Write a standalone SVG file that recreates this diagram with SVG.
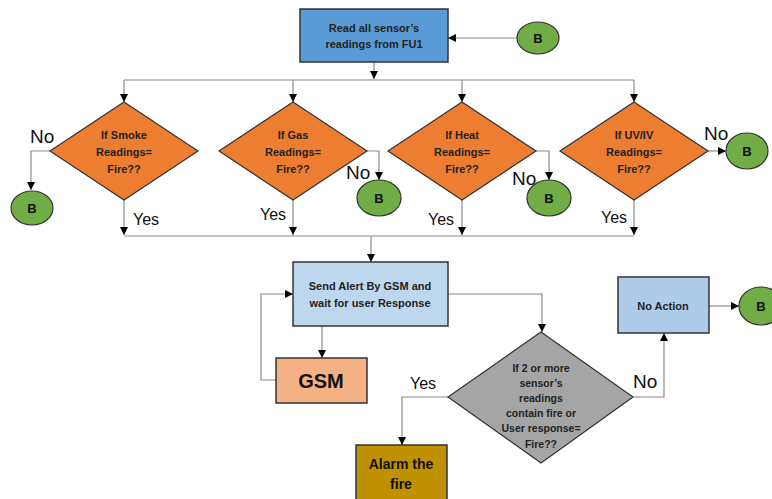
<svg xmlns="http://www.w3.org/2000/svg" width="772" height="499" viewBox="0 0 772 499">
<defs>
<marker id="arr" markerUnits="userSpaceOnUse" markerWidth="8" markerHeight="8" refX="8" refY="4" orient="auto">
<path d="M0,0 L8,4 L0,8 z" fill="#000"/>
</marker>
<style>
.con{fill:none;stroke:#8a8a8a;stroke-width:1.2}
.arr{marker-end:url(#arr)}
.box{stroke:#333;stroke-width:1.5}
.dia{fill:#ED7D31;stroke:#333;stroke-width:1.2}
.b{fill:#70AD47;stroke:#333;stroke-width:1.2}
.t{font-family:"Liberation Sans",Arial,sans-serif;font-weight:bold;font-size:11px;fill:#222;text-anchor:middle}
.sm{font-size:10.5px}
.big{font-size:20px;fill:#111}
.mid{font-size:14px;fill:#111}
.bt{font-family:"Liberation Sans",Arial,sans-serif;font-weight:bold;font-size:13px;fill:#111;text-anchor:middle}
.lbl{font-family:"Liberation Sans",Arial,sans-serif;font-size:16px;fill:#111}
.no{font-size:19px}
</style>
</defs>
<rect width="772" height="499" fill="#fff"/>

<g id="connectors">
<path class="con arr" d="M517,38 H448"/>
<path class="con arr" d="M374,62 V79"/>
<path class="con" d="M124,80 H634"/>
<path class="con arr" d="M124,80 V102"/>
<path class="con arr" d="M293,80 V102"/>
<path class="con arr" d="M462,80 V102"/>
<path class="con arr" d="M634,80 V102"/>
<path class="con arr" d="M50,151 H31 V190"/>
<path class="con arr" d="M367,151 H379 V180"/>
<path class="con arr" d="M536,151 H549 V180"/>
<path class="con arr" d="M708,151 H726"/>
<path class="con arr" d="M124,200 V235"/>
<path class="con arr" d="M293,200 V235"/>
<path class="con arr" d="M462,200 V235"/>
<path class="con arr" d="M634,200 V235"/>
<path class="con" d="M124,236 H634"/>
<path class="con arr" d="M371,236 V262"/>
<path class="con arr" d="M322,326 V358"/>
<path class="con arr" d="M276,380 H261 V294 H293"/>
<path class="con arr" d="M448,294 H542 V332"/>
<path class="con arr" d="M448,397 H402 V445"/>
<path class="con arr" d="M633,397 H664 V333"/>
<path class="con arr" d="M709,306 H739"/>
</g>

<g id="labels">
<text class="lbl no" x="30" y="143">No</text>
<text class="lbl no" x="346" y="179">No</text>
<text class="lbl no" x="512" y="185">No</text>
<text class="lbl no" x="704" y="140">No</text>
<text class="lbl" x="133" y="225">Yes</text>
<text class="lbl" x="260" y="220">Yes</text>
<text class="lbl" x="428" y="225">Yes</text>
<text class="lbl" x="601" y="223">Yes</text>
<text class="lbl" x="410" y="389">Yes</text>
<text class="lbl no" x="633" y="388">No</text>
</g>

<g id="read">
<rect class="box" x="300" y="9" width="148" height="53" fill="#5B9BD5"/>
<text class="t" x="374" y="32">Read all sensor’s</text>
<text class="t" x="374" y="48">readings from FU1</text>
</g>
<g id="b-top"><ellipse class="b" cx="538" cy="38" rx="21" ry="16"/><text class="bt" x="538" y="43">B</text></g>

<g id="smoke">
<polygon class="dia" points="124,102 198,151 124,200 50,151"/>
<text class="t" x="124" y="139">If Smoke</text>
<text class="t" x="124" y="156">Readings=</text>
<text class="t" x="124" y="173">Fire??</text>
</g>
<g id="gas">
<polygon class="dia" points="293,102 367,151 293,200 219,151"/>
<text class="t" x="293" y="139">If Gas</text>
<text class="t" x="293" y="156">Readings=</text>
<text class="t" x="293" y="173">Fire??</text>
</g>
<g id="heat">
<polygon class="dia" points="462,102 536,151 462,200 388,151"/>
<text class="t" x="462" y="139">If Heat</text>
<text class="t" x="462" y="156">Readings=</text>
<text class="t" x="462" y="173">Fire??</text>
</g>
<g id="uv">
<polygon class="dia" points="634,102 708,151 634,200 560,151"/>
<text class="t" x="634" y="139">If UV/IV</text>
<text class="t" x="634" y="156">Readings=</text>
<text class="t" x="634" y="173">Fire??</text>
</g>

<g id="b-smoke"><ellipse class="b" cx="32" cy="208" rx="21" ry="17"/><text class="bt" x="32" y="213">B</text></g>
<g id="b-gas"><ellipse class="b" cx="379" cy="198" rx="22" ry="18"/><text class="bt" x="379" y="203">B</text></g>
<g id="b-heat"><ellipse class="b" cx="549" cy="198" rx="22" ry="18"/><text class="bt" x="549" y="203">B</text></g>
<g id="b-uv"><ellipse class="b" cx="747" cy="151" rx="21" ry="18"/><text class="bt" x="747" y="156">B</text></g>

<g id="alert">
<rect class="box" x="293" y="262" width="155" height="64" fill="#BDD7EE"/>
<text class="t" x="370" y="290">Send Alert By GSM and</text>
<text class="t" x="370" y="307">wait for user Response</text>
</g>
<g id="gsm">
<rect class="box" x="276" y="358" width="91" height="45" fill="#F4B183"/>
<text class="t big" x="321" y="388">GSM</text>
</g>
<g id="check">
<polygon points="541,332 633,397 541,463 448,397" fill="#A5A5A5" stroke="#333" stroke-width="1.2"/>
<text class="t sm" x="541" y="372">If 2 or more</text>
<text class="t sm" x="541" y="387">sensor’s</text>
<text class="t sm" x="541" y="402">readings</text>
<text class="t sm" x="541" y="417">contain fire or</text>
<text class="t sm" x="541" y="432">User response=</text>
<text class="t sm" x="541" y="448">Fire??</text>
</g>
<g id="alarm">
<rect class="box" x="356" y="445" width="91" height="60" fill="#BF9000"/>
<text class="t mid" x="401" y="469">Alarm the</text>
<text class="t mid" x="401" y="489">fire</text>
</g>
<g id="noaction">
<rect class="box" x="618" y="277" width="91" height="56" fill="#AFCBEA"/>
<text class="t" x="663" y="310">No Action</text>
</g>
<g id="b-noaction"><ellipse class="b" cx="761" cy="306" rx="22" ry="19"/><text class="bt" x="761" y="311">B</text></g>
</svg>
